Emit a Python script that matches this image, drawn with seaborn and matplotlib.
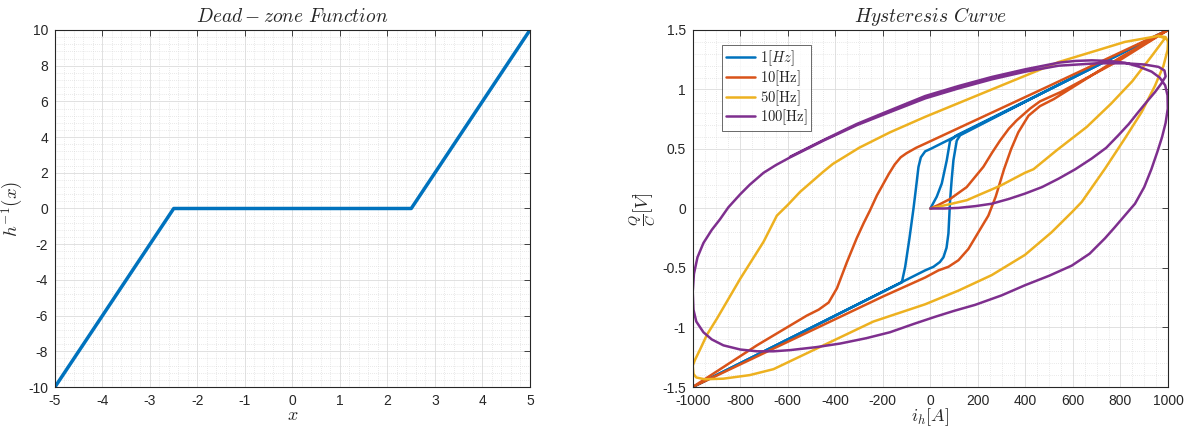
import numpy as np
import pandas as pd
import matplotlib
matplotlib.use("Agg")
import matplotlib.pyplot as plt
from matplotlib.ticker import MultipleLocator
import seaborn as sns

sns.set_theme(style="white")
plt.rcParams["font.family"] = ["Liberation Sans", "DejaVu Sans"]
plt.rcParams["mathtext.fontset"] = "cm"
plt.rcParams["axes.unicode_minus"] = False

# ---- dead-zone inverse map ----
dz_x = [-5.0, -2.5, 2.5, 5.0]
dz_y = [-10.0, 0.0, 0.0, 10.0]

# ---- hysteresis loops: (current [A], Q/C [V]) ----
hz1_i = [0, 27, 48, 69, 83, 111, 500, 1000,
         500, 0, -22, -40, -50, -60, -71, -88, -106, -120, -500, -1000,
         -500, -22, 13, 40, 55, 68, 76, 83, 90, 97, 111, 125, 500, 1000]
hz1_v = [0, 0.10, 0.21, 0.405, 0.57, 0.615, 1.0, 1.5,
         1.0, 0.5, 0.48, 0.43, 0.35, 0.18, 0.0, -0.25, -0.49, -0.62, -1.0, -1.5,
         -1.0, -0.52, -0.49, -0.45, -0.41, -0.33, -0.21, 0.07, 0.25, 0.405, 0.57, 0.615, 1.0, 1.5]

hz10_i = [0, 34, 83, 153, 223, 260, 293, 330, 363, 420, 461, 550, 800, 1000,
          500, -22, -60, -100, -125, -150, -175, -200, -225, -255, -280, -310, -351, -393, -428,
          -470, -520, -730, -1000,
          -600, -200, -22, 34, 76, 118, 160, 202, 244, 275, 310, 340, 370, 413, 461, 520,
          600, 800, 1000]
hz10_v = [0, 0.03, 0.08, 0.18, 0.35, 0.47, 0.57, 0.67, 0.74, 0.84, 0.90, 0.98, 1.25, 1.5,
          1.03, 0.545, 0.51, 0.465, 0.43, 0.37, 0.29, 0.20, 0.11, -0.02, -0.12, -0.25, -0.45, -0.67, -0.79,
          -0.85, -0.90, -1.15, -1.5,
          -1.12, -0.74, -0.58, -0.52, -0.49, -0.435, -0.34, -0.20, -0.06, 0.10, 0.33, 0.50, 0.64, 0.78, 0.86, 0.92,
          1.02, 1.27, 1.5]

hz50_i = [0, 90, 154, 188, 293, 398, 434, 532, 658, 760, 850, 931, 987,
          960, 819, 539, 258, -22, -170, -300, -365, -410, -450, -548, -600, -646, -702, -800, -898,
          -940, -968, -990, -1000, -997, -985, -950, -871, -760, -660, -450, -240, -22, 118, 258, 398,
          510, 596, 637, 735, 819, 889, 945, 981, 998, 1000, 990, 960]
hz50_v = [0, 0.04, 0.07, 0.10, 0.19, 0.30, 0.33, 0.49, 0.685, 0.88, 1.07, 1.28, 1.43,
          1.45, 1.40, 1.23, 1.00, 0.77, 0.64, 0.51, 0.43, 0.375, 0.31, 0.14, 0.03, -0.06, -0.28, -0.59, -0.925,
          -1.06, -1.18, -1.27, -1.32, -1.39, -1.42, -1.435, -1.43, -1.40, -1.35, -1.15, -0.95, -0.805, -0.69, -0.56, -0.39,
          -0.20, -0.03, 0.055, 0.335, 0.59, 0.81, 1.03, 1.20, 1.33, 1.40, 1.44, 1.45]

hz100_i = [0, 60, 118, 190, 258, 330, 398, 470, 539, 610, 679, 740, 791, 835, 875, 912, 946,
           972, 990, 985, 960, 900, 820, 700, 540, 400, 258, 120, -22,
           -170, -310, -450, -590, -650, -702, -760, -800, -850, -885, -920, -955, -980, -995,
           -1000, -997, -985, -955, -920, -871, -800, -730, -660, -590, -480, -380, -270, -170,
           -70, 20, 100, 188, 300, 398, 500, 595, 670, 735, 775, 805, 835, 861, 900, 930, 955,
           975, 990, 999, 998, 988, 965, 931, 880, 819, 750, 679, 610, 539, 400, 258, 120, -22,
           -170, -310, -450, -590]
hz100_v = [0, 0.0, 0.005, 0.02, 0.04, 0.08, 0.125, 0.18, 0.25, 0.33, 0.42, 0.51, 0.615, 0.71, 0.81, 0.90, 0.98,
           1.05, 1.11, 1.16, 1.19, 1.21, 1.22, 1.22, 1.20, 1.15, 1.085, 1.01, 0.925,
           0.81, 0.70, 0.57, 0.43, 0.365, 0.30, 0.20, 0.12, 0.01, -0.09, -0.18, -0.29, -0.41, -0.55,
           -0.70, -0.85, -0.95, -1.04, -1.10, -1.15, -1.185, -1.20, -1.20, -1.19, -1.165, -1.135, -1.09, -1.04,
           -0.97, -0.91, -0.86, -0.81, -0.73, -0.645, -0.565, -0.48, -0.38, -0.25, -0.16, -0.09, -0.02, 0.04, 0.18, 0.33, 0.475,
           0.60, 0.72, 0.84, 0.95, 1.035, 1.10, 1.15, 1.19, 1.225, 1.24, 1.245, 1.24, 1.225, 1.17, 1.105, 1.03, 0.945,
           0.825, 0.71, 0.575, 0.435]

series = [
    ("$1[Hz]$", hz1_i, hz1_v, "#0072BD"),
    (r"$10[\mathrm{Hz}]$", hz10_i, hz10_v, "#D95319"),
    (r"$50[\mathrm{Hz}]$", hz50_i, hz50_v, "#EDB120"),
    (r"$100[\mathrm{Hz}]$", hz100_i, hz100_v, "#7E2F8E"),
]

fig = plt.figure(figsize=(11.87, 4.29), dpi=100)
ax1 = fig.add_axes([0.0463, 0.0979, 0.4002, 0.8322])
ax2 = fig.add_axes([0.5836, 0.0979, 0.4004, 0.8322])


def matlab_axes(ax):
    ax.set_facecolor("white")
    for s in ax.spines.values():
        s.set_color("#262626")
        s.set_linewidth(0.8)
    ax.tick_params(which="major", direction="in", length=4, width=0.6,
                   top=True, right=True, colors="#262626", labelsize=10)
    ax.tick_params(axis="x", which="major", pad=5)
    ax.tick_params(axis="y", which="major", pad=5)
    ax.tick_params(which="minor", length=0, top=True, right=True)
    ax.grid(True, which="major", color="#dcdcdc", linewidth=0.6, linestyle="-")
    ax.grid(True, which="minor", color="#d4d4d4", linewidth=0.5, linestyle=(0, (1, 2)))
    ax.set_axisbelow(True)


# left panel
sns.lineplot(x=dz_x, y=dz_y, ax=ax1, color="#0072BD", linewidth=2.5, sort=False,
             estimator=None)
ax1.set_xlim(-5, 5)
ax1.set_ylim(-10, 10)
ax1.xaxis.set_major_locator(MultipleLocator(1))
ax1.yaxis.set_major_locator(MultipleLocator(2))
ax1.xaxis.set_minor_locator(MultipleLocator(0.2))
ax1.yaxis.set_minor_locator(MultipleLocator(0.4))
matlab_axes(ax1)
ax1.set_title("$Dead-zone\\ Function$", fontsize=14, pad=6)
ax1.set_xlabel("$x$", fontsize=13, labelpad=-1)
ax1.set_ylabel("$h^{-1}(x)$", fontsize=13.5, labelpad=2)

# right panel
for name, xi, yv, col in series:
    sns.lineplot(x=xi, y=yv, ax=ax2, color=col, linewidth=1.8, sort=False,
                 estimator=None, label=name)
ax2.set_xlim(-1000, 1000)
ax2.set_ylim(-1.5, 1.5)
ax2.xaxis.set_minor_locator(MultipleLocator(50))
ax2.yaxis.set_minor_locator(MultipleLocator(0.1))
ax2.set_yticks([-1.5, -1, -0.5, 0, 0.5, 1, 1.5])
ax2.set_yticklabels(["-1.5", "-1", "-0.5", "0", "0.5", "1", "1.5"])
ax2.set_xticks(list(range(-1000, 1001, 200)))
ax2.set_xticklabels([str(v) for v in range(-1000, 1001, 200)])
matlab_axes(ax2)
ax2.set_title("$Hysteresis\\ Curve$", fontsize=14, pad=6)
ax2.set_xlabel("$i_h[A]$", fontsize=13, labelpad=-1)
ax2.set_ylabel(r"$\frac{Q}{C}[V]$", fontsize=13.5, labelpad=2)

leg = ax2.legend(loc="upper left", bbox_to_anchor=(0.062, 0.958), fontsize=10.5,
                 frameon=True, fancybox=False, edgecolor="#262626", borderpad=0.25,
                 handlelength=2.0, handletextpad=0.35, labelspacing=0.0,
                 borderaxespad=0.0)
leg.get_frame().set_linewidth(0.6)

fig.savefig("out.png", dpi=100)
